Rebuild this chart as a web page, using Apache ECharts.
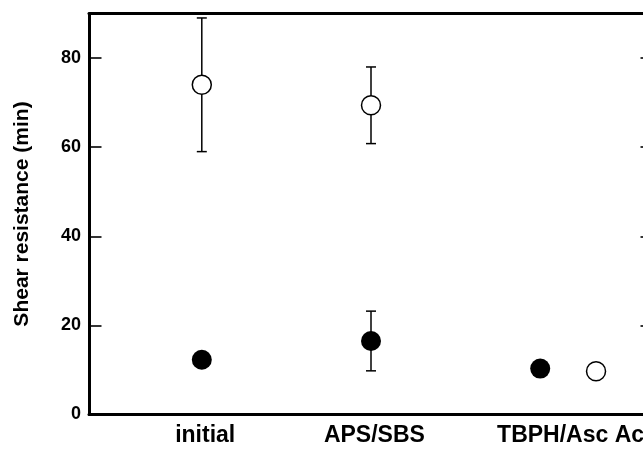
<!DOCTYPE html>
<html>
<head>
<meta charset="utf-8">
<script src="https://cdn.jsdelivr.net/npm/echarts@6/dist/echarts.min.js"></script>
<style>
  html, body { margin: 0; padding: 0; background: #fff; overflow: hidden; }
  #chart { width: 660px; height: 451px; }
</style>
</head>
<body>
<div id="chart"></div>
<script>
// Treatment groups and where each label sits along the x scale
const categories = ['initial', 'APS/SBS', 'TBPH/Asc Acid'];
const labelPos = [1.02, 2.02, 3.24];

// Open circles: mean and +/- error
const openPos = [1, 2, 3.33];
const openMean = [74, 69.4, 9.7];
const openErr = [15, 8.6, 0];

// Filled circles: mean and +/- error
const filledPos = [1, 2, 3];
const filledMean = [12.3, 16.5, 10.3];
const filledErr = [0, 6.7, 0];

// Y axis ticks
const yTicks = [0, 20, 40, 60, 80];

const FONT = '"Liberation Sans", Arial, Helvetica, sans-serif';

function points(pos, mean) {
  return pos.map((x, i) => [x, mean[i]]);
}
function bars(pos, mean, err) {
  return pos.map((x, i) => [x, mean[i] - err[i], mean[i] + err[i]]);
}

function renderErrorBar(params, api) {
  const x = api.value(0);
  const lo = api.coord([x, api.value(1)]);
  const hi = api.coord([x, api.value(2)]);
  const half = 5;
  const style = { stroke: '#000', lineWidth: 1.5 };
  return {
    type: 'group',
    children: [
      { type: 'line', shape: { x1: lo[0], y1: lo[1], x2: hi[0], y2: hi[1] }, style },
      { type: 'line', shape: { x1: lo[0] - half, y1: lo[1], x2: lo[0] + half, y2: lo[1] }, style },
      { type: 'line', shape: { x1: hi[0] - half, y1: hi[1], x2: hi[0] + half, y2: hi[1] }, style }
    ]
  };
}

// The plot frame runs a little past the right edge of the window, so the
// drawing surface is wider than the visible area.
const chart = echarts.init(document.getElementById('chart'), null, { renderer: 'canvas' });

const axisLine = { show: true, onZero: false, lineStyle: { color: '#000', width: 3 } };

chart.setOption({
  animation: false,
  backgroundColor: '#fff',
  grid: {
    left: 89, top: 13.5, right: 7, bottom: 36.5,
    containLabel: false, outerBoundsMode: 'none'
  },
  xAxis: [
    {
      type: 'value', position: 'bottom', min: 1 / 3, max: 11 / 3,
      axisLine: axisLine,
      axisTick: { show: false },
      splitLine: { show: false },
      axisLabel: {
        customValues: labelPos,
        margin: 10,
        color: '#000', fontFamily: FONT, fontWeight: 'bold', fontSize: 23,
        formatter: function (v) {
          const i = labelPos.findIndex(p => Math.abs(p - v) < 1e-6);
          return i >= 0 ? categories[i] : '';
        }
      }
    },
    {
      type: 'value', position: 'top', min: 1 / 3, max: 11 / 3,
      axisLine: axisLine,
      axisTick: { show: false },
      axisLabel: { show: false },
      splitLine: { show: false }
    }
  ],
  yAxis: [
    {
      type: 'value', position: 'left', min: 0, max: 90,
      name: 'Shear resistance (min)',
      nameLocation: 'middle',
      nameGap: 56,
      nameTextStyle: { color: '#000', fontFamily: FONT, fontWeight: 'bold', fontSize: 21 },
      axisLine: axisLine,
      axisTick: { show: true, inside: true, length: 12.5, customValues: yTicks, lineStyle: { color: '#000', width: 1.6 } },
      axisLabel: { customValues: yTicks, margin: 8, color: '#000', fontFamily: FONT, fontWeight: 'bold', fontSize: 18 },
      splitLine: { show: false }
    },
    {
      type: 'value', position: 'right', min: 0, max: 90,
      axisLine: axisLine,
      axisTick: { show: true, inside: true, length: 12.5, customValues: yTicks, lineStyle: { color: '#000', width: 1.6 } },
      axisLabel: { show: false },
      splitLine: { show: false }
    }
  ],
  series: [
    {
      type: 'custom', name: 'open error', xAxisIndex: 0, yAxisIndex: 0, z: 1,
      renderItem: renderErrorBar,
      data: bars(openPos, openMean, openErr),
      clip: false
    },
    {
      type: 'custom', name: 'filled error', xAxisIndex: 0, yAxisIndex: 0, z: 1,
      renderItem: renderErrorBar,
      data: bars(filledPos, filledMean, filledErr),
      clip: false
    },
    {
      type: 'scatter', name: 'open', z: 3,
      symbol: 'circle', symbolSize: 19,
      itemStyle: { color: '#fff', borderColor: '#000', borderWidth: 1.5, opacity: 1 },
      data: points(openPos, openMean)
    },
    {
      type: 'scatter', name: 'filled', z: 3,
      symbol: 'circle', symbolSize: 20,
      itemStyle: { color: '#000', borderColor: '#000', borderWidth: 0, opacity: 1 },
      data: points(filledPos, filledMean)
    }
  ]
});
</script>
</body>
</html>
